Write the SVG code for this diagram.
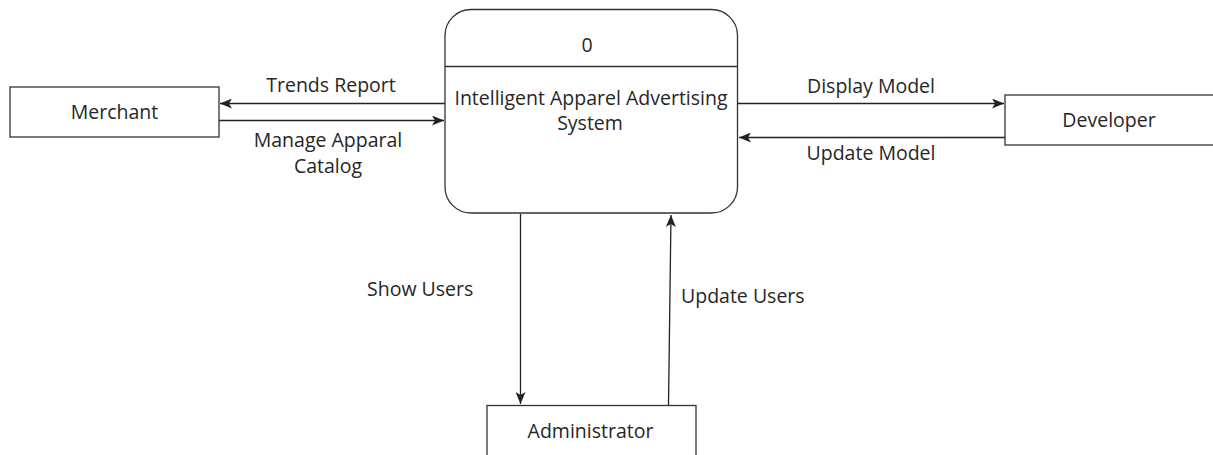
<svg xmlns="http://www.w3.org/2000/svg" width="1213" height="455" viewBox="0 0 1213 455">
  <style>
    .box { fill: #ffffff; stroke: #333333; stroke-width: 1.3; }
    .flow { fill: none; stroke: #222222; stroke-width: 1.3; marker-end: url(#arrow); }
    text { font-family: "Open Sans", "Noto Sans", sans-serif; font-size: 19.5px; fill: #262626; }
    .c { text-anchor: middle; }
  </style>
  <defs>
    <marker id="arrow" markerUnits="userSpaceOnUse" markerWidth="13" markerHeight="10" refX="12" refY="5" orient="auto">
      <path d="M0,0 L12,5 L0,10 L3,5 Z" fill="#222222"/>
    </marker>
  </defs>
  <rect width="1213" height="455" fill="#ffffff"/>

  <!-- data flows -->
  <g id="connectors">
    <line class="flow" x1="445" y1="103.5" x2="220" y2="103.5"/>
    <line class="flow" x1="219" y1="120.5" x2="444" y2="120.5"/>
    <line class="flow" x1="738" y1="103.5" x2="1004" y2="103.5"/>
    <line class="flow" x1="1005" y1="137.5" x2="739" y2="137.5"/>
    <line class="flow" x1="520.5" y1="214" x2="520.5" y2="404"/>
    <line class="flow" x1="668.5" y1="405" x2="671" y2="215"/>
    <text class="c" x="331" y="92">Trends Report</text>
    <text class="c" x="328" y="147">Manage Apparal</text>
    <text class="c" x="328" y="173">Catalog</text>
    <text class="c" x="871" y="93">Display Model</text>
    <text class="c" x="871" y="160">Update Model</text>
    <text x="367" y="296">Show Users</text>
    <text x="681" y="303">Update Users</text>
  </g>

  <!-- external entities -->
  <g id="merchant">
    <rect class="box" x="10" y="87" width="209" height="50"/>
    <text class="c" x="114.5" y="119">Merchant</text>
  </g>
  <g id="developer">
    <rect class="box" x="1005" y="95" width="220" height="50"/>
    <text class="c" x="1109" y="127">Developer</text>
  </g>
  <g id="administrator">
    <rect class="box" x="487" y="405.5" width="209" height="60"/>
    <text class="c" x="590.5" y="438">Administrator</text>
  </g>

  <!-- process 0 -->
  <g id="process-0">
    <rect class="box" x="445" y="9.5" width="292.5" height="203.5" rx="26" ry="26"/>
    <line x1="445" y1="66.5" x2="737.5" y2="66.5" stroke="#333333" stroke-width="1.3"/>
    <text class="c" x="587" y="51.5">0</text>
    <text class="c" x="591" y="105">Intelligent Apparel Advertising</text>
    <text class="c" x="590" y="130">System</text>
  </g>
</svg>
